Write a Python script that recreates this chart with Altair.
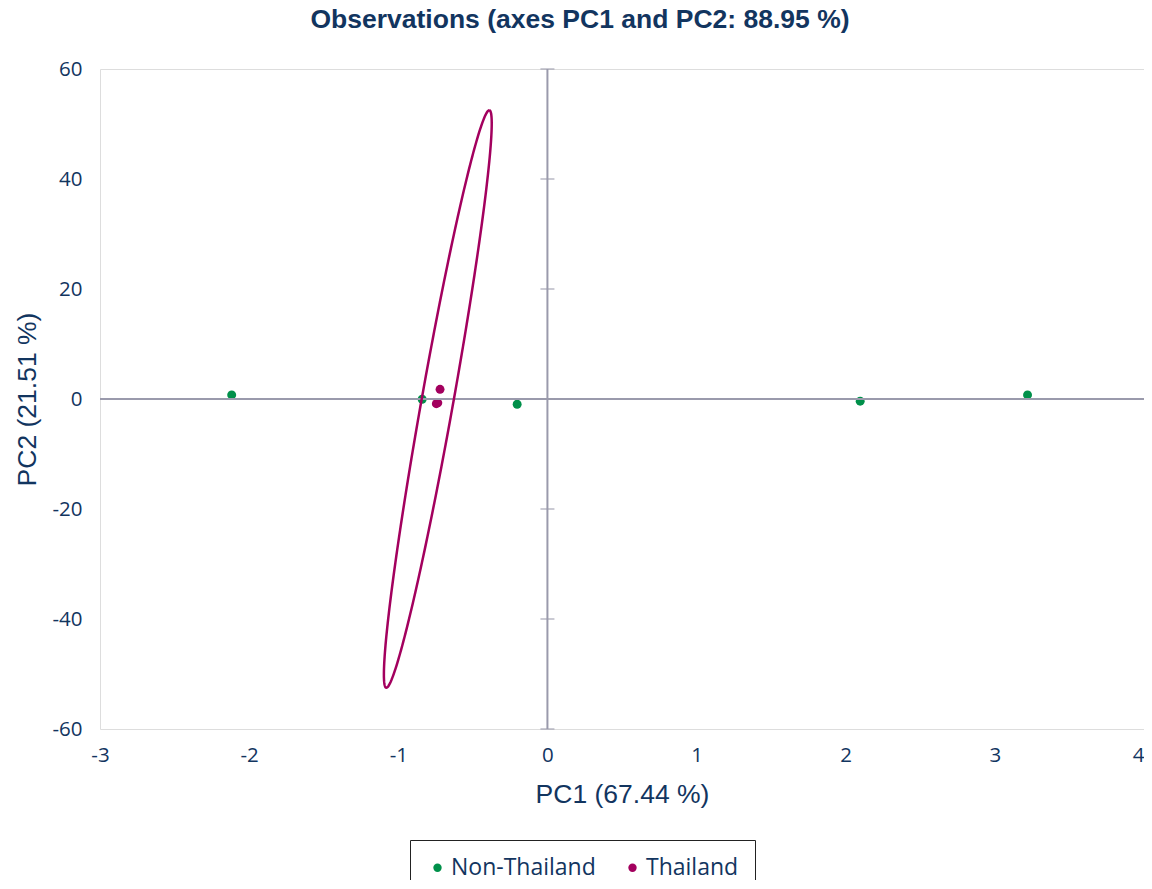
import altair as alt
import numpy as np
import pandas as pd

# Observations
groups = ["Non-Thailand", "Non-Thailand", "Non-Thailand", "Non-Thailand", "Non-Thailand",
          "Thailand", "Thailand", "Thailand"]
pc1 = [-2.117, -0.840, -0.203, 2.097, 3.219, -0.720, -0.745, -0.735]
pc2 = [0.75, -0.05, -0.95, -0.40, 0.75, 1.76, -0.85, -0.70]

# Confidence ellipse of the Thailand group
ell_center = [-0.735, 0.0]
ell_x_cos = 0.345   # x offset at top of ellipse
ell_x_sin = 0.108   # half width at centre
ell_y_cos = 52.5    # half height

x_ticks = [-3, -2, -1, 0, 1, 2, 3, 4]
y_ticks = [-60, -40, -20, 0, 20, 40, 60]

navy = "#12355f"
green = "#00904a"
purple = "#a3005e"
zero_col = "#9a9aac"

obs = pd.DataFrame({"PC1": pc1, "PC2": pc2, "Group": groups})

t = np.linspace(0, 2 * np.pi, 241)
ell = pd.DataFrame({
    "PC1": ell_center[0] + ell_x_cos * np.cos(t) + ell_x_sin * np.sin(t),
    "PC2": ell_center[1] + ell_y_cos * np.cos(t),
    "i": np.arange(len(t)),
})

xs = alt.Scale(domain=[-3, 4], nice=False, zero=False)
ys = alt.Scale(domain=[-60, 60], nice=False, zero=False)

x_axis = alt.Axis(values=x_ticks, ticks=False, domain=False, grid=False,
                  labelExpr="'' + datum.value",
                  labelAlign=alt.expr("datum.value == 4 ? 'right' : 'center'"),
                  labelFont="Open Sans", labelFontSize=20.5, labelColor=navy,
                  labelPadding=16, title="PC1 (67.44 %)", titleFont="Liberation Sans",
                  titleFontSize=26.5, titleFontWeight="normal", titleColor=navy,
                  titleY=73, titleBaseline="alphabetic")
y_axis = alt.Axis(values=y_ticks, ticks=False, domain=False, grid=False,
                  labelExpr="'' + datum.value",
                  labelFont="Open Sans", labelFontSize=20.5, labelColor=navy,
                  labelPadding=18, title="PC2 (21.51 %)", titleFont="Liberation Sans",
                  titleFontSize=26.5, titleFontWeight="normal", titleColor=navy,
                  titleX=-65, titleBaseline="alphabetic", titleAngle=270)

base_x = alt.X("PC1:Q", scale=xs, axis=x_axis)
base_y = alt.Y("PC2:Q", scale=ys, axis=y_axis)

hline = alt.Chart(pd.DataFrame({"PC2": [0]})).mark_rule(color=zero_col, strokeWidth=2).encode(
    y=alt.Y("PC2:Q", scale=ys))
vline = alt.Chart(pd.DataFrame({"PC1": [0]})).mark_rule(color=zero_col, strokeWidth=2).encode(
    x=alt.X("PC1:Q", scale=xs))
ticks = alt.Chart(pd.DataFrame({"PC1": [0] * len(y_ticks), "PC2": y_ticks})).mark_tick(
    color=zero_col, orient="horizontal", size=14, thickness=1.5).encode(
    x=alt.X("PC1:Q", scale=xs), y=alt.Y("PC2:Q", scale=ys))

ellipse = alt.Chart(ell).mark_line(color=purple, strokeWidth=2.5).encode(
    x=alt.X("PC1:Q", scale=xs), y=alt.Y("PC2:Q", scale=ys), order="i:Q")

points = alt.Chart(obs).mark_circle(size=80, opacity=1).encode(
    x=base_x, y=base_y,
    color=alt.Color("Group:N", scale=alt.Scale(domain=["Non-Thailand", "Thailand"],
                                                range=[green, purple]),
                    legend=alt.Legend(title=None, orient="none", legendX=310, legendY=771,
                                      direction="horizontal", symbolType="circle",
                                      symbolSize=70, labelFont="Open Sans", labelFontSize=23,
                                      labelColor=navy, strokeColor="#222222", padding=16,
                                      columnPadding=25, labelOffset=2)))

chart = alt.layer(points, hline, vline, ticks, ellipse).properties(
    width=1044, height=660,
    title=alt.TitleParams("Observations (axes PC1 and PC2: 88.95 %)", font="Liberation Sans",
                          fontSize=26.5, fontWeight="bold", color=navy, anchor="middle",
                          dx=-42, offset=26),
    autosize=alt.AutoSizeParams(type="none"),
    padding={"left": 92, "top": 61, "right": 0, "bottom": 151},
).configure_view(stroke="#c6c6c6", strokeWidth=2).configure(background="white")

chart.save("out.html", embed_options={"renderer": "svg", "actions": False})
